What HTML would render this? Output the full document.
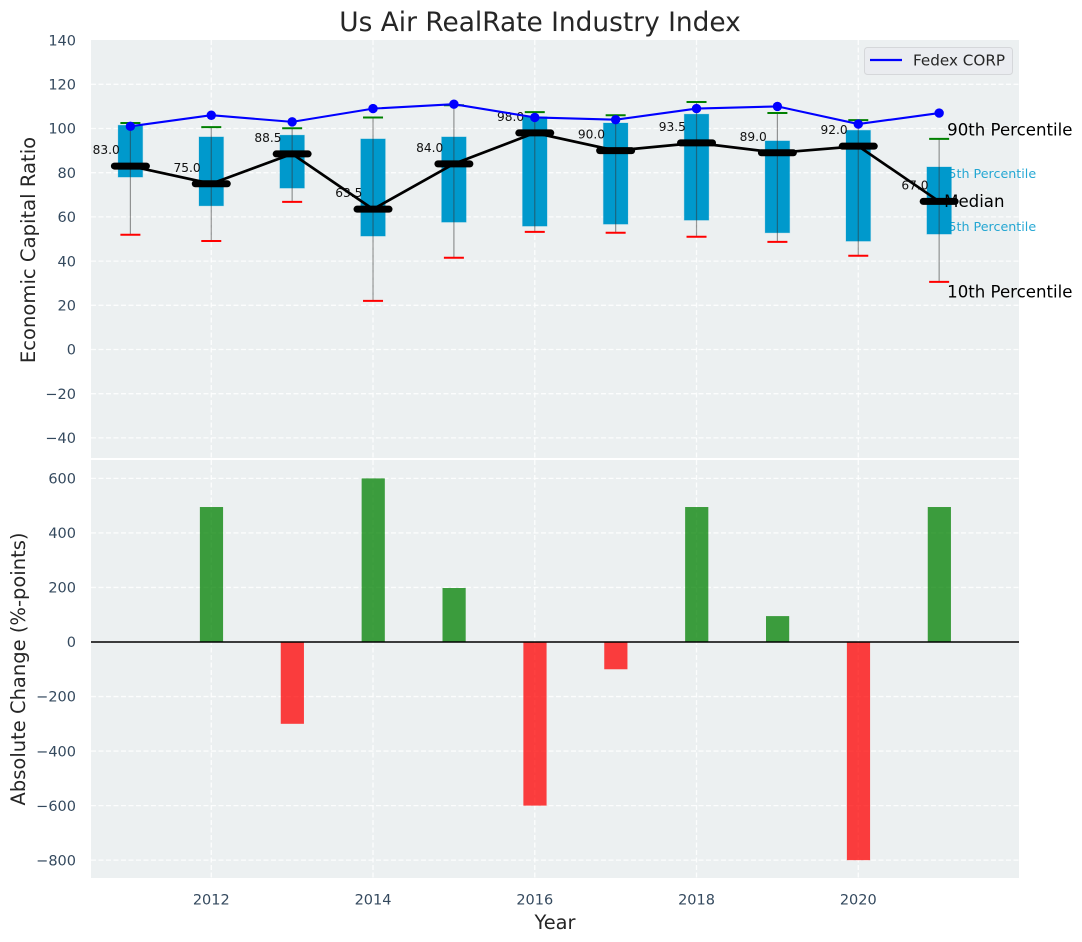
<!DOCTYPE html>
<html>
<head>
<meta charset="utf-8">
<title>Us Air RealRate Industry Index</title>
<style>
html,body{margin:0;padding:0;background:#fff;width:1082px;height:942px;overflow:hidden}
svg{display:block;font-family:"DejaVu Sans","Liberation Sans",sans-serif}
</style>
</head>
<body>
<svg id="chart" xmlns="http://www.w3.org/2000/svg" width="1082" height="942" viewBox="0 0 1082 942">
  <rect x="91" y="40" width="928" height="418" fill="#ecf0f1"/>
  <rect x="91" y="460" width="928" height="418" fill="#ecf0f1"/>
  <g id="grid"></g>
  <g id="ticks"></g>
  <g id="top"></g>
  <g id="bottom"></g>
  <text x="540" y="31" font-size="26.4" text-anchor="middle" fill="#262626">Us Air RealRate Industry Index</text>
  <text x="35" y="250" font-size="19.6" text-anchor="middle" fill="#262626" transform="rotate(-90 35 250)">Economic Capital Ratio</text>
  <text x="25" y="669" font-size="19.5" text-anchor="middle" fill="#262626" transform="rotate(-90 25 669)">Absolute Change (%-points)</text>
  <text x="555" y="929" font-size="19.4" text-anchor="middle" fill="#262626">Year</text>
  <g>
    <rect x="864.5" y="47.5" width="148" height="27" rx="3" fill="#eaecf0" stroke="#d5d7da" stroke-width="1"/>
    <line x1="870" y1="60" x2="902" y2="60" stroke="#0000ff" stroke-width="2.2"/>
    <text x="913" y="65.5" font-size="15.2" fill="#262626">Fedex CORP</text>
  </g>
</svg>
<script>
var years = [2011, 2012, 2013, 2014, 2015, 2016, 2017, 2018, 2019, 2020, 2021];
var p90 = [102.5, 100.6, 100.1, 105, 110.5, 107.4, 106, 112, 107, 103.8, 95.3];
var p75 = [101.5, 96.2, 97, 95.3, 96.2, 105.3, 102.5, 106.5, 94.4, 99.2, 82.6];
var median = [83, 75, 88.5, 63.5, 84, 98, 90, 93.5, 89, 92, 67];
var p25 = [78, 65, 73, 51.3, 57.6, 55.8, 56.7, 58.5, 52.8, 49, 52.2];
var p10 = [51.9, 49.1, 66.8, 22, 41.5, 53.2, 52.8, 51, 48.7, 42.4, 30.6];
var fedex = [101, 106, 103, 109, 111, 105, 104, 109, 110, 102, 107];
var changeYears = [2012, 2013, 2014, 2015, 2016, 2017, 2018, 2019, 2020, 2021];
var changes = [495, -300, 600, 198, -600, -100, 495, 95, -800, 495];
var xTicks = [2012, 2014, 2016, 2018, 2020];
var topTicks = [140, 120, 100, 80, 60, 40, 20, 0, -20, -40];
var bottomTicks = [600, 400, 200, 0, -200, -400, -600, -800];

function xs(v) { return 130.4 + (v - 2011) * 80.875; }
function yt(v) { return 349.5 - v * 2.21; }
function yb(v) { return 642 - v * 0.2727; }

var NS = 'http://www.w3.org/2000/svg';
function mk(parent, tag, props, txt) {
  var el = document.createElementNS(NS, tag);
  for (var k in props) el.setAttribute(k, props[k]);
  if (txt !== undefined) el.textContent = txt;
  parent.appendChild(el);
  return el;
}
var gGrid = document.getElementById('grid');
var gTicks = document.getElementById('ticks');
var gTop = document.getElementById('top');
var gBottom = document.getElementById('bottom');
var gridStyle = {stroke: '#ffffff', 'stroke-width': 1.3, 'stroke-dasharray': '5 2.5', 'stroke-opacity': 0.85};
function gridLine(x1, y1, x2, y2) {
  var el = mk(gGrid, 'line', Object.assign({x1: x1, y1: y1, x2: x2, y2: y2}, gridStyle));
  
  
}
topTicks.forEach(function (t) {
  var y = yt(t);
  if (t !== 140) gridLine(91, y, 1019, y);
  var el = mk(gTicks, 'text', {x: 76, y: y + 5.2, 'font-size': 14.5, 'text-anchor': 'end', fill: '#34495e'}, String(t).replace('-', '\u2212'));
  
  
});
bottomTicks.forEach(function (t) {
  var y = yb(t);
  gridLine(91, y, 1019, y);
  var el = mk(gTicks, 'text', {x: 76, y: y + 5.2, 'font-size': 14.5, 'text-anchor': 'end', fill: '#34495e'}, String(t).replace('-', '\u2212'));
  
  
});
xTicks.forEach(function (t) {
  var x = xs(t);
  gridLine(x, 40, x, 458);
  gridLine(x, 460, x, 878);
  var el = mk(gTicks, 'text', {x: x, y: 904.5, 'font-size': 14.5, 'text-anchor': 'middle', fill: '#34495e'}, String(t));
  
  
});

/* annotations that sit behind the boxes */
var lastX = xs(years[years.length - 1]);
var lastI = years.length - 1;
var t75 = mk(gTop, 'text', {x: lastX + 1.2, y: yt(p75[lastI]) + 11, 'font-size': 12.7, fill: '#0099cc', 'fill-opacity': 0.85}, '75th Percentile');


var t25 = mk(gTop, 'text', {x: lastX + 1.2, y: yt(p25[lastI]) - 3, 'font-size': 12.7, fill: '#0099cc', 'fill-opacity': 0.85}, '25th Percentile');



years.forEach(function (yr, i) {
  var x = xs(yr);
  var box = mk(gTop, 'rect', {x: x - 12.3, y: yt(p75[i]), width: 24.6, height: yt(p25[i]) - yt(p75[i]), fill: '#0099cc', stroke: '#0099cc', 'stroke-opacity': 0.2, 'stroke-width': 1});
  
  
  var wh = mk(gTop, 'line', {x1: x, x2: x, y1: yt(p90[i]), y2: yt(p10[i]), stroke: '#333', 'stroke-opacity': 0.5, 'stroke-width': 1.2});
  
  
  var capHi = mk(gTop, 'line', {x1: x - 10, x2: x + 10, y1: yt(p90[i]), y2: yt(p90[i]), stroke: '#008000', 'stroke-width': 2});
  
  
  var capLo = mk(gTop, 'line', {x1: x - 10, x2: x + 10, y1: yt(p10[i]), y2: yt(p10[i]), stroke: '#ff0000', 'stroke-width': 2});
  
  
});

years.forEach(function (yr, i) {
  var lab = mk(gTop, 'text', {x: xs(yr) - 37.8, y: yt(median[i]) - 12, 'font-size': 12.2, fill: '#111'}, median[i].toFixed(1));
  
  
});

var t90 = mk(gTop, 'text', {x: lastX + 8, y: yt(p90[lastI]) - 3.5, 'font-size': 16.6, fill: '#000'}, '90th Percentile');


var t10 = mk(gTop, 'text', {x: lastX + 8, y: yt(p10[lastI]) + 15.5, 'font-size': 16.6, fill: '#000'}, '10th Percentile');


var tm = mk(gTop, 'text', {x: lastX + 5, y: yt(median[lastI]) + 5.5, 'font-size': 16.6, fill: '#000'}, 'Median');



var medPts = years.map(function (yr, i) { return xs(yr) + ',' + yt(median[i]); }).join(' ');
var medLine = mk(gTop, 'polyline', {points: medPts, fill: 'none', stroke: '#000', 'stroke-width': 2.7});


years.forEach(function (yr, i) {
  var x = xs(yr);
  var m = mk(gTop, 'line', {x1: x - 16, x2: x + 16, y1: yt(median[i]), y2: yt(median[i]), stroke: '#000', 'stroke-width': 7, 'stroke-linecap': 'round'});
  
  
});

var fedPts = years.map(function (yr, i) { return xs(yr) + ',' + yt(fedex[i]); }).join(' ');
var fedLine = mk(gTop, 'polyline', {points: fedPts, fill: 'none', stroke: '#0000ff', 'stroke-width': 2.1});


years.forEach(function (yr, i) {
  var c = mk(gTop, 'circle', {cx: xs(yr), cy: yt(fedex[i]), r: 4.7, fill: '#0000ff'});
  
  
});

changeYears.forEach(function (yr, i) {
  var v = changes[i];
  var y0 = yb(Math.max(v, 0));
  var y1 = yb(Math.min(v, 0));
  var bar = mk(gBottom, 'rect', {x: xs(yr) - 11.4, y: y0, width: 23.2, height: y1 - y0, fill: v >= 0 ? '#008000' : '#ff0000', 'fill-opacity': 0.75});
  
  
});
var zero = mk(gBottom, 'line', {x1: 91, x2: 1019, y1: 642, y2: 642, stroke: '#000', 'stroke-width': 1.5});


</script>
</body>
</html>
